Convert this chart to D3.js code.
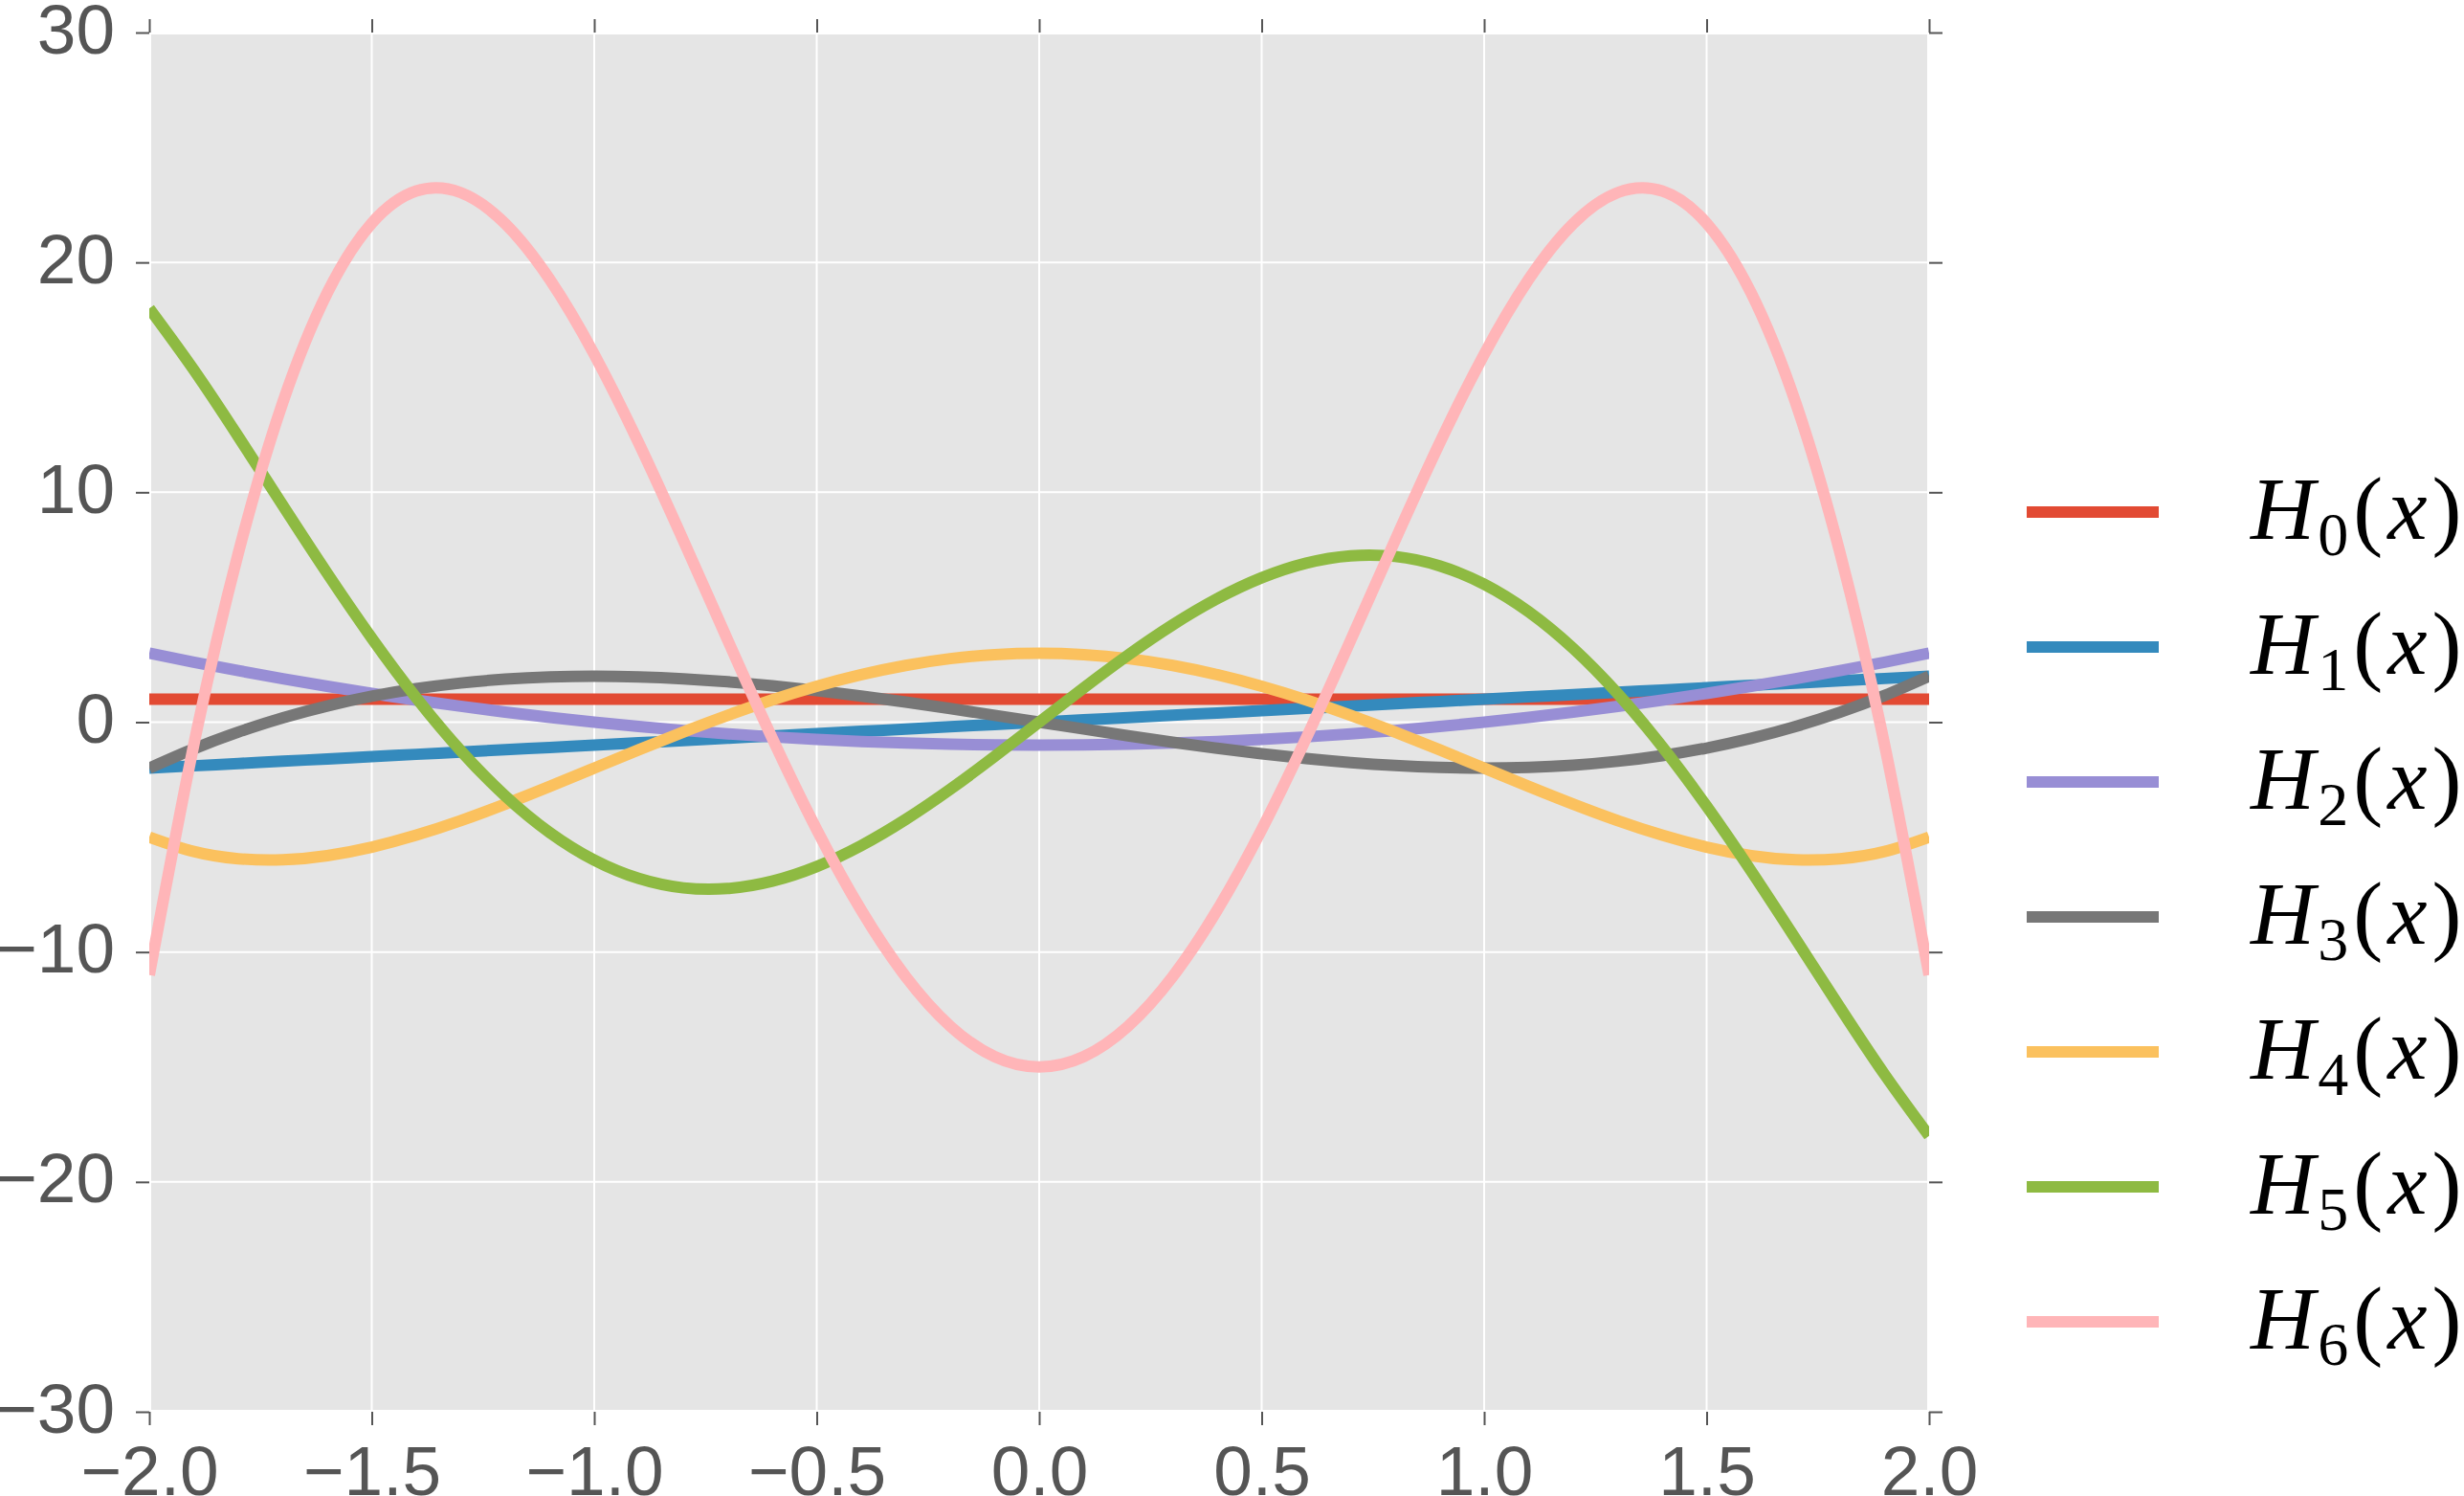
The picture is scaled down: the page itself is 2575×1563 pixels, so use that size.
<!DOCTYPE html>
<html>
<head>
<meta charset="utf-8">
<script src="https://cdn.jsdelivr.net/npm/d3@7"></script>
<style>
  html, body { margin: 0; padding: 0; background: #ffffff; }
  svg { display: block; }
</style>
</head>
<body>
<script>
// ---- data ----
const xValues = [-2.0,-1.9,-1.8,-1.7,-1.6,-1.5,-1.4,-1.3,-1.2,-1.1,-1.0,-0.9,-0.8,-0.7,-0.6,-0.5,-0.4,-0.3,-0.2,-0.1,0.0,
                 0.1,0.2,0.3,0.4,0.5,0.6,0.7,0.8,0.9,1.0,1.1,1.2,1.3,1.4,1.5,1.6,1.7,1.8,1.9,2.0];

const seriesNames = ["0", "1", "2", "3", "4", "5", "6"];

const h0 = [1,1,1,1,1,1,1,1,1,1,1,1,1,1,1,1,1,1,1,1,1,1,1,1,1,1,1,1,1,1,1,1,1,1,1,1,1,1,1,1,1];
const h1 = [-2.0,-1.9,-1.8,-1.7,-1.6,-1.5,-1.4,-1.3,-1.2,-1.1,-1.0,-0.9,-0.8,-0.7,-0.6,-0.5,-0.4,-0.3,-0.2,-0.1,0.0,
            0.1,0.2,0.3,0.4,0.5,0.6,0.7,0.8,0.9,1.0,1.1,1.2,1.3,1.4,1.5,1.6,1.7,1.8,1.9,2.0];
const h2 = [3.0,2.61,2.24,1.89,1.56,1.25,0.96,0.69,0.44,0.21,0.0,-0.19,-0.36,-0.51,-0.64,-0.75,-0.84,-0.91,-0.96,-0.99,-1.0,
            -0.99,-0.96,-0.91,-0.84,-0.75,-0.64,-0.51,-0.36,-0.19,0.0,0.21,0.44,0.69,0.96,1.25,1.56,1.89,2.24,2.61,3.0];
const h3 = [-2.0,-1.159,-0.432,0.187,0.704,1.125,1.456,1.703,1.872,1.969,2.0,1.971,1.888,1.757,1.584,1.375,1.136,0.873,0.592,0.299,0.0,
            -0.299,-0.592,-0.873,-1.136,-1.375,-1.584,-1.757,-1.888,-1.971,-2.0,-1.969,-1.872,-1.703,-1.456,-1.125,-0.704,-0.187,0.432,1.159,2.0];
const h4 = [-5.0,-5.628,-5.942,-5.988,-5.806,-5.438,-4.918,-4.284,-3.566,-2.796,-2.0,-1.204,-0.430,0.300,0.970,1.563,2.066,2.468,2.762,2.940,3.0,
            2.940,2.762,2.468,2.066,1.563,0.970,0.300,-0.430,-1.204,-2.0,-2.796,-3.566,-4.284,-4.918,-5.438,-5.806,-5.988,-5.942,-5.628,-5.0];
const h5 = [18.0,15.329,12.424,9.431,6.474,3.656,1.062,-1.243,-3.208,-4.801,-6.0,-6.800,-7.208,-7.238,-6.918,-6.281,-5.370,-4.232,-2.920,-1.490,0.0,
            1.490,2.920,4.232,5.370,6.281,6.918,7.238,7.208,6.800,6.0,4.801,3.208,1.243,-1.062,-3.656,-6.474,-9.431,-12.424,-15.329,-18.0];
const h6 = [-11.0,-0.986,7.348,13.906,18.673,21.703,23.106,23.035,21.682,19.260,16.0,12.140,7.918,3.566,-0.697,-4.672,-8.180,-11.071,-13.224,-14.552,-15.0,
            -14.552,-13.224,-11.071,-8.180,-4.672,-0.697,3.566,7.918,12.140,16.0,19.260,21.682,23.035,23.106,21.703,18.673,13.906,7.348,-0.986,-11.0];

const seriesValues = [h0, h1, h2, h3, h4, h5, h6];
const colors = ["#E24A33", "#348ABD", "#988ED5", "#777777", "#FBC15E", "#8EBA42", "#FFB5B8"];

const xTicks = [-2.0,-1.5,-1.0,-0.5,0.0,0.5,1.0,1.5,2.0];
const yTicks = [-30,-20,-10,0,10,20,30];

// ---- layout ----
const W = 2575, H = 1563;
const X0 = 156, X1 = 2016, Y0 = 34, Y1 = 1475;

const svg = d3.select("body").append("svg").attr("width", W).attr("height", H);

const x = d3.scaleLinear().domain([-2, 2]).range([X0, X1]);
const y = d3.scaleLinear().domain([-30, 30]).range([Y1, Y0]);

// background
svg.append("rect")
  .attr("x", X0).attr("y", Y0).attr("width", X1 - X0).attr("height", Y1 - Y0)
  .attr("fill", "#E5E5E5").attr("stroke", "#ffffff").attr("stroke-width", 4);

// grid
const grid = svg.append("g");
grid.selectAll("line.gx").data(xTicks).enter().append("line")
  .attr("x1", d => x(d)).attr("x2", d => x(d)).attr("y1", Y0).attr("y2", Y1)
  .attr("stroke", "#ffffff").attr("stroke-width", 2);
grid.selectAll("line.gy").data(yTicks).enter().append("line")
  .attr("y1", d => y(d)).attr("y2", d => y(d)).attr("x1", X0).attr("x2", X1)
  .attr("stroke", "#ffffff").attr("stroke-width", 2);

// clip
svg.append("defs").append("clipPath").attr("id", "clip")
  .append("rect").attr("x", X0).attr("y", Y0).attr("width", X1 - X0).attr("height", Y1 - Y0);

const line = d3.line()
  .x((d, i) => x(xValues[i]))
  .y(d => y(d))
  .curve(d3.curveNatural);

const plot = svg.append("g").attr("clip-path", "url(#clip)");
seriesValues.forEach((vals, k) => {
  plot.append("path")
    .attr("d", line(vals))
    .attr("fill", "none")
    .attr("stroke", colors[k])
    .attr("stroke-width", 12)
    .attr("stroke-linejoin", "round");
});

// axes (ticks outward on all four sides, no domain line)
const tickLen = 14;
const fmtX = d => d3.format(".1f")(d).replace("-", "\u2212");
const fmtY = d => String(d).replace("-", "\u2212");

function styleAxis(g) {
  g.select(".domain").remove();
  g.selectAll(".tick line").attr("stroke", "#555555").attr("stroke-width", 2);
  g.selectAll(".tick text").attr("fill", "#555555")
    .attr("font-family", "'Liberation Sans', Arial, sans-serif").attr("font-size", 73);
}

const axBottom = svg.append("g").attr("transform", `translate(0,${Y1})`)
  .call(d3.axisBottom(x).tickValues(xTicks).tickFormat(fmtX).tickSizeInner(tickLen).tickSizeOuter(0).tickPadding(18));
styleAxis(axBottom);
axBottom.selectAll(".tick text").attr("dy", null).attr("y", 87);

const axTop = svg.append("g").attr("transform", `translate(0,${Y0})`)
  .call(d3.axisTop(x).tickValues(xTicks).tickFormat("").tickSizeInner(tickLen).tickSizeOuter(0));
styleAxis(axTop);

const axLeft = svg.append("g").attr("transform", `translate(${X0},0)`)
  .call(d3.axisLeft(y).tickValues(yTicks).tickFormat(fmtY).tickSizeInner(tickLen).tickSizeOuter(0).tickPadding(22));
styleAxis(axLeft);
axLeft.selectAll(".tick text").attr("dy", null).attr("y", 21);

const axRight = svg.append("g").attr("transform", `translate(${X1},0)`)
  .call(d3.axisRight(y).tickValues(yTicks).tickFormat("").tickSizeInner(tickLen).tickSizeOuter(0));
styleAxis(axRight);

// legend
const legend = svg.append("g");
const legY0 = 535, legStep = 141;
seriesNames.forEach((n, k) => {
  const ly = legY0 + k * legStep;
  legend.append("line")
    .attr("x1", 2118).attr("x2", 2256).attr("y1", ly).attr("y2", ly)
    .attr("stroke", colors[k]).attr("stroke-width", 12);
  const t = legend.append("text")
    .attr("x", 2352).attr("y", ly + 28)
    .attr("font-family", "'Liberation Serif', 'DejaVu Serif', serif")
    .attr("font-size", 93).attr("fill", "#000000");
  t.append("tspan").attr("font-style", "italic").text("H");
  t.append("tspan").attr("font-size", 64).attr("dy", 17).attr("dx", 3).text(n);
  t.append("tspan").attr("dy", -17).attr("dx", 5).text("(");
  t.append("tspan").attr("font-style", "italic").attr("dx", 5).text("x");
  t.append("tspan").attr("dx", 5).text(")");
});
</script>
</body>
</html>
